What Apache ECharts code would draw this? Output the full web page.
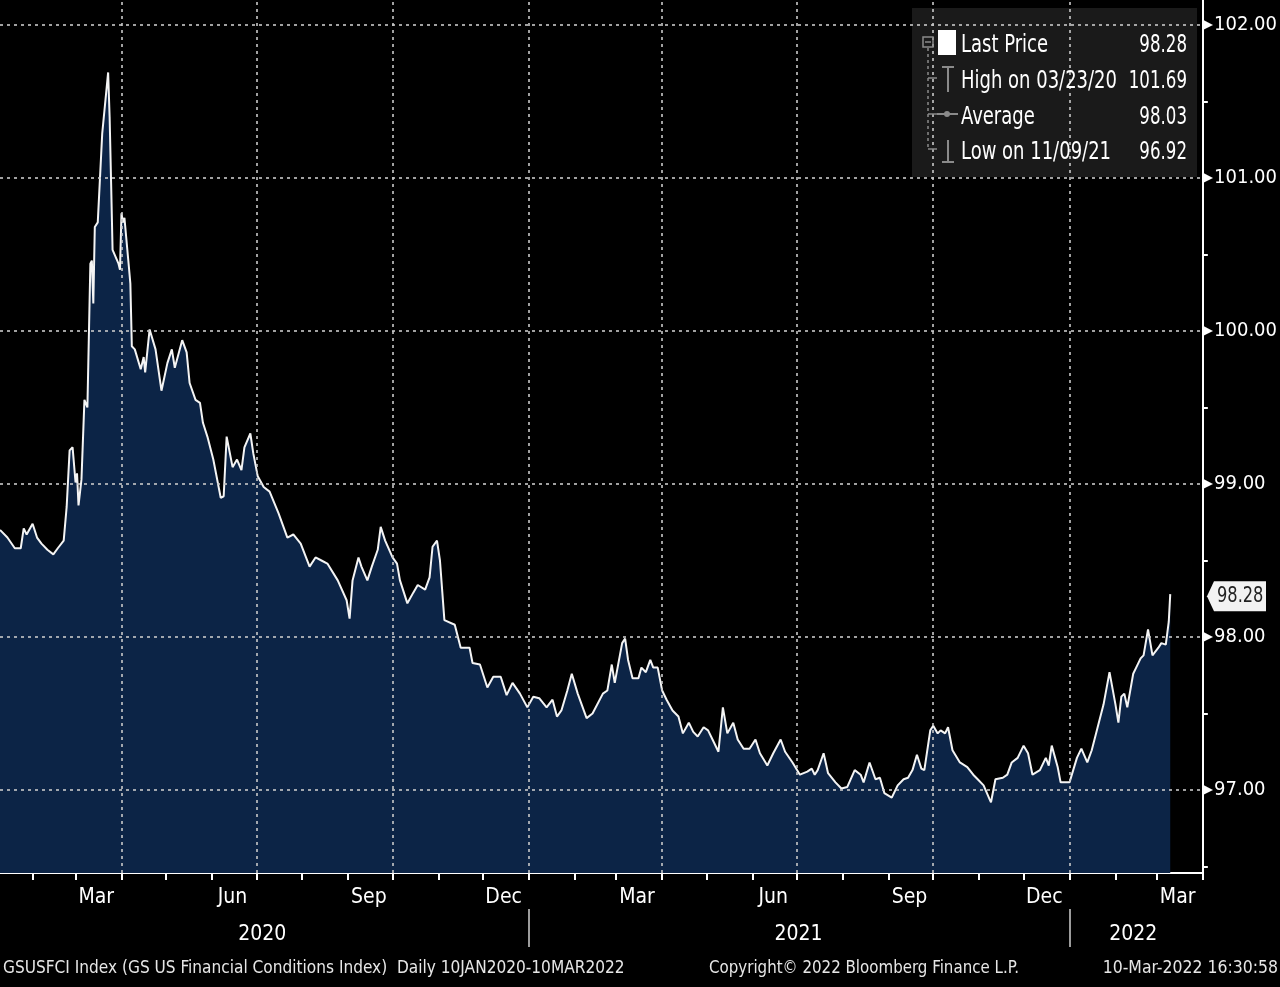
<!DOCTYPE html>
<html><head><meta charset="utf-8">
<script src="https://cdn.jsdelivr.net/npm/echarts/dist/echarts.min.js"></script>
<style>html,body{margin:0;padding:0;background:#000;}#c{width:1280px;height:987px;}</style>
</head><body><div id="c"></div>
<script>
// ---------------- DATA ----------------
const dates = [
'2020-01-10','2020-01-15','2020-01-20','2020-01-24','2020-01-26','2020-01-28','2020-02-01','2020-02-04','2020-02-07','2020-02-11',
'2020-02-15','2020-02-18','2020-02-22','2020-02-24','2020-02-26','2020-02-28','2020-03-01','2020-03-02','2020-03-03','2020-03-05',
'2020-03-07','2020-03-09','2020-03-11','2020-03-12','2020-03-13','2020-03-14','2020-03-16','2020-03-19','2020-03-23','2020-03-24',
'2020-03-25','2020-03-26','2020-03-30','2020-03-31','2020-04-01','2020-04-02','2020-04-03','2020-04-06','2020-04-07','2020-04-08',
'2020-04-10','2020-04-14','2020-04-16','2020-04-17','2020-04-20','2020-04-24','2020-04-28','2020-05-02','2020-05-05','2020-05-07',
'2020-05-12','2020-05-15','2020-05-17','2020-05-21','2020-05-24','2020-05-26','2020-05-29','2020-06-02','2020-06-07','2020-06-09',
'2020-06-11','2020-06-15','2020-06-18','2020-06-21','2020-06-23','2020-06-27','2020-06-29','2020-07-02','2020-07-06','2020-07-10',
'2020-07-16','2020-07-22','2020-07-26','2020-07-31','2020-08-06','2020-08-10','2020-08-14','2020-08-18','2020-08-25','2020-08-31',
'2020-09-02','2020-09-04','2020-09-08','2020-09-10','2020-09-14','2020-09-17','2020-09-21','2020-09-23','2020-09-26','2020-10-01',
'2020-10-04','2020-10-06','2020-10-11','2020-10-15','2020-10-18','2020-10-23','2020-10-26','2020-10-28','2020-10-31','2020-11-02',
'2020-11-05','2020-11-12','2020-11-16','2020-11-22','2020-11-24','2020-11-29','2020-12-04','2020-12-08','2020-12-13','2020-12-17',
'2020-12-21','2020-12-26','2020-12-31','2021-01-04','2021-01-08','2021-01-13','2021-01-17','2021-01-20','2021-01-23','2021-01-27',
'2021-01-30','2021-02-03','2021-02-09','2021-02-13','2021-02-20','2021-02-23','2021-02-26','2021-02-28','2021-03-05','2021-03-07',
'2021-03-09','2021-03-12','2021-03-16','2021-03-18','2021-03-21','2021-03-24','2021-03-26','2021-03-29','2021-04-01','2021-04-04',
'2021-04-08','2021-04-12','2021-04-15','2021-04-19','2021-04-22','2021-04-25','2021-04-29','2021-05-02','2021-05-05','2021-05-09',
'2021-05-12','2021-05-15','2021-05-19','2021-05-22','2021-05-26','2021-05-30','2021-06-03','2021-06-06','2021-06-11','2021-06-15',
'2021-06-20','2021-06-23','2021-06-28','2021-07-03','2021-07-08','2021-07-11','2021-07-13','2021-07-15','2021-07-19','2021-07-22',
'2021-07-27','2021-07-31','2021-08-04','2021-08-09','2021-08-13','2021-08-15','2021-08-19','2021-08-23','2021-08-26','2021-08-29',
'2021-09-03','2021-09-07','2021-09-11','2021-09-14','2021-09-17','2021-09-20','2021-09-23','2021-09-25','2021-09-29','2021-10-01',
'2021-10-04','2021-10-06','2021-10-09','2021-10-11','2021-10-14','2021-10-19','2021-10-24','2021-10-28','2021-10-31','2021-11-04',
'2021-11-08','2021-11-09','2021-11-12','2021-11-17','2021-11-20','2021-11-23','2021-11-27','2021-12-01','2021-12-04','2021-12-07',
'2021-12-12','2021-12-16','2021-12-18','2021-12-20','2021-12-24','2021-12-26','2022-01-01','2022-01-06','2022-01-09','2022-01-13',
'2022-01-16','2022-01-20','2022-01-24','2022-01-28','2022-02-01','2022-02-03','2022-02-05','2022-02-07','2022-02-09','2022-02-13',
'2022-02-15','2022-02-18','2022-02-20','2022-02-23','2022-02-26','2022-03-02','2022-03-04','2022-03-07','2022-03-09','2022-03-10'
];
const values = [
98.70,98.65,98.58,98.58,98.71,98.67,98.74,98.65,98.61,98.57,
98.54,98.58,98.63,98.85,99.22,99.24,99.01,99.07,98.86,99.03,
99.55,99.50,100.44,100.46,100.18,100.68,100.71,101.29,101.69,101.40,
100.97,100.53,100.44,100.40,100.77,100.71,100.74,100.42,100.31,99.90,
99.88,99.75,99.83,99.73,100.01,99.88,99.61,99.79,99.88,99.76,
99.94,99.86,99.66,99.55,99.53,99.40,99.31,99.16,98.91,98.92,
99.31,99.11,99.16,99.09,99.24,99.33,99.20,99.05,98.98,98.95,
98.81,98.65,98.67,98.61,98.46,98.52,98.50,98.48,98.37,98.24,
98.12,98.37,98.52,98.46,98.37,98.46,98.57,98.72,98.63,98.52,
98.48,98.37,98.22,98.29,98.34,98.31,98.39,98.59,98.63,98.50,
98.11,98.08,97.93,97.93,97.83,97.82,97.67,97.74,97.74,97.62,
97.70,97.63,97.54,97.61,97.60,97.54,97.59,97.48,97.52,97.65,
97.76,97.63,97.47,97.50,97.63,97.65,97.82,97.70,97.96,97.99,
97.85,97.73,97.73,97.80,97.77,97.85,97.80,97.80,97.65,97.59,
97.52,97.48,97.37,97.44,97.38,97.35,97.41,97.39,97.33,97.25,
97.54,97.37,97.44,97.33,97.27,97.27,97.33,97.24,97.16,97.24,
97.33,97.25,97.18,97.10,97.12,97.14,97.10,97.13,97.24,97.11,
97.05,97.01,97.02,97.13,97.10,97.05,97.18,97.07,97.08,96.98,
96.95,97.03,97.07,97.08,97.13,97.23,97.14,97.13,97.39,97.42,
97.37,97.39,97.37,97.41,97.26,97.18,97.15,97.10,97.07,97.03,
96.94,96.92,97.07,97.08,97.10,97.18,97.21,97.29,97.24,97.10,
97.13,97.21,97.16,97.29,97.15,97.05,97.05,97.21,97.27,97.18,
97.26,97.41,97.56,97.77,97.56,97.44,97.61,97.63,97.54,97.76,
97.80,97.86,97.88,98.05,97.88,97.93,97.96,97.95,98.10,98.28
];
const axisStart = '2020-01-10';
const axisEnd = '2022-04-01';
const monthLabelDates = ['2020-03-15','2020-06-15','2020-09-15','2020-12-15','2021-03-15','2021-06-15','2021-09-15','2021-12-15','2022-03-15'];
const monthLabels = ['Mar','Jun','Sep','Dec','Mar','Jun','Sep','Dec','Mar'];
const yearLabelDates = ['2020-07-05','2021-07-02','2022-02-13'];
const yearLabels = ['2020','2021','2022'];
const yearBreakDates = ['2021-01-01','2022-01-01'];
const xGridDates = ['2020-04-01','2020-07-01','2020-10-01','2021-01-01','2021-04-01','2021-07-01','2021-10-01','2022-01-01'];
const yGridValues = [97,98,99,100,101,102];
const yLabelValues = [97,98,99,100,101,102];
const yMinorTickValues = [96.5,97.5,98.5,99.5,100.5,101.5];
const legendLabels = ['Last Price','High on 03/23/20','Average','Low on 11/09/21'];
const legendValues = ['98.28','101.69','98.03','96.92'];
const lastPriceLabel = '98.28';
const footerLeft = 'GSUSFCI Index (GS US Financial Conditions Index)  Daily 10JAN2020-10MAR2022';
const footerCenter = 'Copyright\u00A9 2022 Bloomberg Finance L.P.';
const footerRight = '10-Mar-2022 16:30:58';

// ---------------- BUILD ----------------
const F = "'Liberation Sans Narrow','DejaVu Sans Condensed','Arial Narrow',sans-serif";
function dayList(a, b) {
  const out = [];
  let t = Date.parse(a + 'T00:00:00Z');
  const e = Date.parse(b + 'T00:00:00Z');
  while (t <= e) { out.push(new Date(t).toISOString().slice(0, 10)); t += 86400000; }
  return out;
}
const days = dayList(axisStart, axisEnd);
const monthMap = new Map(monthLabelDates.map((d, i) => [d, monthLabels[i]]));
const yearMap = new Map(yearLabelDates.map((d, i) => [d, yearLabels[i]]));
const pairs = dates.map((d, i) => [d, values[i]]);

const Y_MIN = 96.4575, Y_MAX = 102.1634;
const chart = echarts.init(document.getElementById('c'), null, {renderer: 'canvas'});
const option = {
  backgroundColor: '#000',
  animation: false,
  grid: {left: 0, right: 77, top: 0, bottom: 114, containLabel: false},
  xAxis: [{
    type: 'category', data: days, boundaryGap: false, position: 'bottom',
    axisLine: {show: true, lineStyle: {color: '#fff', width: 2}},
    axisTick: {show: true, interval: (i, v) => v.slice(8) === '01' || i === days.length - 1, length: 7, lineStyle: {color: '#fff', width: 2}},
    axisLabel: {show: true, interval: (i, v) => monthMap.has(v), formatter: v => monthMap.get(v) || '', color: '#fff', fontSize: 21, fontFamily: F, margin: 14},
    splitLine: {show: false}
  }, {
    type: 'category', data: days, boundaryGap: false, position: 'bottom', offset: 36,
    axisLine: {show: false},
    axisTick: {show: true, interval: (i, v) => yearBreakDates.includes(v), length: 38, lineStyle: {color: '#cfcfcf', width: 1.5}},
    axisLabel: {show: true, interval: (i, v) => yearMap.has(v), formatter: v => yearMap.get(v) || '', color: '#fff', fontSize: 21, fontFamily: F, margin: 15},
    splitLine: {show: false}
  }],
  yAxis: {
    type: 'value', position: 'right', min: Y_MIN, max: Y_MAX, scale: true,
    axisLine: {show: true, lineStyle: {color: '#fff', width: 2}},
    axisTick: {show: true, customValues: yMinorTickValues, length: 5, lineStyle: {color: '#fff', width: 2}},
    axisLabel: {
      show: true, customValues: yLabelValues, margin: 1,
      formatter: v => (Math.abs(v - Math.round(v)) < 1e-6) ? '{t|\u25B6}{v|' + v.toFixed(2) + '}' : '',
      rich: {t: {fontSize: 12, color: '#fff', padding: [0, 1, 0, 0], fontFamily: 'DejaVu Sans'}, v: {fontSize: 20, color: '#fff', fontFamily: F}}
    },
    splitLine: {show: false}
  },
  series: [{
    type: 'line', name: 'fill', data: pairs, symbol: 'none', silent: true, z: 1,
    lineStyle: {opacity: 0}, areaStyle: {color: '#0c2446', opacity: 1, origin: 'start'},
    markLine: {
      silent: true, symbol: ['none', 'none'], label: {show: false}, animation: false,
      lineStyle: {color: 'rgba(200,200,200,0.8)', type: [3, 4], width: 2},
      data: xGridDates.map(d => ({xAxis: d})).concat(yGridValues.map(v => ({yAxis: v})))
    }
  }, {
    type: 'line', name: 'Last Price', data: pairs, symbol: 'none', z: 3, silent: true,
    lineStyle: {color: '#f4f4f4', width: 2}
  }]
};
chart.setOption(option);

// ---------------- ANNOTATIONS ----------------
const yLast = chart.convertToPixel({yAxisIndex: 0}, values[values.length - 1]);
const axisX = 1280 - 77;
const g = [];
function txt(t, x, y, size, align, sx, fill) {
  return {type: 'text', z: 10, x: x, y: y, scaleX: sx, originX: 0, originY: 0,
    style: {text: t, x: 0, y: 0, fill: fill || '#fff', font: size + 'px ' + F, textAlign: align, textVerticalAlign: 'middle'}};
}
// legend box
g.push({type: 'rect', z: 0, shape: {x: 912, y: 8, width: 285, height: 169}, style: {fill: 'rgba(30,30,30,0.85)'}});
const rowY = [45, 81, 117, 152];
const tree = '#8a8a8a';
g.push({type: 'rect', z: 10, shape: {x: 923, y: 37, width: 10, height: 10}, style: {fill: 'none', stroke: tree, lineWidth: 1.5}});
g.push({type: 'line', z: 10, shape: {x1: 925, y1: 42, x2: 931, y2: 42}, style: {stroke: tree, lineWidth: 1.5}});
g.push({type: 'line', z: 10, shape: {x1: 928, y1: 48, x2: 928, y2: rowY[3] - 3}, style: {stroke: tree, lineWidth: 1.5, lineDash: [3, 3]}});
[1, 2, 3].forEach(k => g.push({type: 'line', z: 10, shape: {x1: 928, y1: rowY[k] - 3, x2: 937, y2: rowY[k] - 3}, style: {stroke: tree, lineWidth: 1.5}}));
// icons
g.push({type: 'rect', z: 10, shape: {x: 938, y: 30, width: 18, height: 25}, style: {fill: '#fff'}});
g.push({type: 'line', z: 10, shape: {x1: 942, y1: 67, x2: 954, y2: 67}, style: {stroke: tree, lineWidth: 2}});
g.push({type: 'line', z: 10, shape: {x1: 948, y1: 67, x2: 948, y2: 92}, style: {stroke: tree, lineWidth: 2}});
g.push({type: 'line', z: 10, shape: {x1: 937, y1: 114, x2: 958, y2: 114}, style: {stroke: tree, lineWidth: 2}});
g.push({type: 'circle', z: 10, shape: {cx: 947, cy: 114, r: 3}, style: {fill: tree}});
g.push({type: 'line', z: 10, shape: {x1: 948, y1: 140, x2: 948, y2: 162}, style: {stroke: tree, lineWidth: 2}});
g.push({type: 'line', z: 10, shape: {x1: 942, y1: 162, x2: 954, y2: 162}, style: {stroke: tree, lineWidth: 2}});
legendLabels.forEach((t, k) => {
  g.push(txt(t, 961, rowY[k], 25, 'left', 0.8));
  g.push(txt(legendValues[k], 1187, rowY[k], 25, 'right', 0.74));
});
// last price tag
g.push({type: 'polygon', z: 10, shape: {points: [[axisX + 4, yLast + 2], [axisX + 11, yLast - 13], [axisX + 63, yLast - 13], [axisX + 63, yLast + 17], [axisX + 11, yLast + 17]]}, style: {fill: '#f2f2f2'}});
g.push(txt(lastPriceLabel, axisX + 14, yLast + 2, 22, 'left', 0.82, '#222'));
// footer
g.push(txt(footerLeft, 3, 968, 18, 'left', 0.95, '#e6e6e6'));
g.push(txt(footerCenter, 709, 968, 18, 'left', 0.93, '#e6e6e6'));
g.push(txt(footerRight, 1278, 968, 18, 'right', 0.97, '#e6e6e6'));
chart.setOption({graphic: {elements: g}});
</script>
</body></html>
